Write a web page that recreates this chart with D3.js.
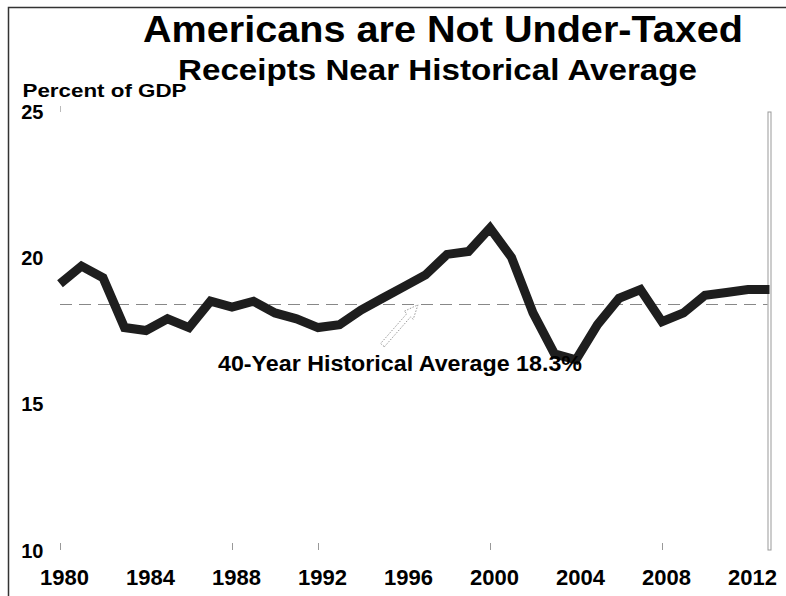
<!DOCTYPE html>
<html>
<head>
<meta charset="utf-8">
<script src="https://cdn.jsdelivr.net/npm/d3@7"></script>
<style>
  body { margin: 0; background: #fff; }
  text { font-family: "Liberation Sans", Arial, sans-serif; font-weight: bold; fill: #000; }
</style>
</head>
<body>
<div class="chart-container"></div>
<script>
var width = 786;
var height = 596;

var years = d3.range(1980, 2014);
var receipts = [19.1, 19.7, 19.3, 17.6, 17.5, 17.9, 17.6, 18.5, 18.3, 18.5,
  18.1, 17.9, 17.6, 17.7, 18.2, 18.6, 19.0, 19.4, 20.1, 20.2,
  21.0, 20.0, 18.1, 16.7, 16.5, 17.7, 18.6, 18.9, 17.8, 18.1,
  18.7, 18.8, 18.9, 18.9];
var average = 18.4;
var yTicks = [25, 20, 15, 10];
var xLabels = [1980, 1984, 1988, 1992, 1996, 2000, 2004, 2008, 2012];
var xTickMarks = [1980, 1988, 1992, 2000, 2008];
// annotation arrow, in data units: [year, percent]
var arrowFrom = [1995.0, 17.0];
var arrowTo = [1996.65, 18.38];

var x = d3.scaleLinear()
  .domain([1980, 2013])
  .range([60, 769.5]);

var y = d3.scaleLinear()
  .domain([10, 25])
  .range([550, 111]);

var svg = d3.select('.chart-container').append('svg')
  .attr('width', width)
  .attr('height', height);

// frame
svg.append('path')
  .attr('d', 'M8.5,' + height + 'V7.5H' + width)
  .attr('fill', 'none')
  .attr('stroke', '#333')
  .attr('stroke-width', 1.5);

svg.append('rect')
  .attr('x', x(2013) - 1.5)
  .attr('y', y(25) + 1)
  .attr('width', 3)
  .attr('height', y(10) - y(25) - 1)
  .attr('fill', '#fff')
  .attr('stroke', '#999')
  .attr('stroke-width', 1);

// titles
svg.append('text')
  .attr('x', 443)
  .attr('y', 42)
  .attr('text-anchor', 'middle')
  .attr('font-size', 36)
  .attr('textLength', 600)
  .attr('lengthAdjust', 'spacingAndGlyphs')
  .text('Americans are Not Under-Taxed');

svg.append('text')
  .attr('x', 437.5)
  .attr('y', 80)
  .attr('text-anchor', 'middle')
  .attr('font-size', 30)
  .attr('textLength', 519)
  .attr('lengthAdjust', 'spacingAndGlyphs')
  .text('Receipts Near Historical Average');

svg.append('text')
  .attr('x', 22.5)
  .attr('y', 96.5)
  .attr('font-size', 19)
  .attr('textLength', 164)
  .attr('lengthAdjust', 'spacingAndGlyphs')
  .text('Percent of GDP');

// axes
var yAxis = svg.append('g').attr('class', 'y-axis');
yAxis.selectAll('text')
  .data(yTicks)
  .enter().append('text')
    .attr('x', 43.5)
    .attr('y', d => y(d) + 7.5)
    .attr('text-anchor', 'end')
    .attr('font-size', 20)
    .text(d => d);

var xAxis = svg.append('g').attr('class', 'x-axis');
xAxis.selectAll('text')
  .data(xLabels)
  .enter().append('text')
    .attr('x', d => x(d) + 4.5)
    .attr('y', 585)
    .attr('text-anchor', 'middle')
    .attr('font-size', 22)
    .text(d => d);

xAxis.selectAll('line')
  .data(xTickMarks)
  .enter().append('line')
    .attr('x1', d => Math.round(x(d)) + 0.5)
    .attr('x2', d => Math.round(x(d)) + 0.5)
    .attr('y1', y(10) - 7)
    .attr('y2', y(10))
    .attr('stroke', '#999');

svg.append('line')
  .attr('x1', x(1980) + 0.5)
  .attr('x2', x(1980) + 0.5)
  .attr('y1', y(25) - 5)
  .attr('y2', y(25) + 1)
  .attr('stroke', '#bbb');

// historical average
svg.append('line')
  .attr('x1', x(1980))
  .attr('x2', x(2013) - 2)
  .attr('y1', Math.round(y(average)) + 0.5)
  .attr('y2', Math.round(y(average)) + 0.5)
  .attr('stroke', '#888')
  .attr('stroke-width', 1)
  .attr('stroke-dasharray', '12,7');

// receipts line
var line = d3.line()
  .x((d, i) => x(years[i]))
  .y(d => y(d));

svg.append('path')
  .datum(receipts)
  .attr('d', line)
  .attr('fill', 'none')
  .attr('stroke', '#1e1e1e')
  .attr('stroke-width', 9)
  .attr('stroke-linejoin', 'miter')
  .attr('stroke-miterlimit', 3);

// annotation
var x0 = x(arrowFrom[0]), y0 = y(arrowFrom[1]);
var x1 = x(arrowTo[0]), y1 = y(arrowTo[1]);
var len = Math.hypot(x1 - x0, y1 - y0);
var ux = (x1 - x0) / len, uy = (y1 - y0) / len;
var nx = -uy, ny = ux;
var headLen = 14, headW = 6, shaftW = 2.5;
var hx = x1 - ux * headLen, hy = y1 - uy * headLen;
var arrowPts = [
  [x0 + nx * shaftW, y0 + ny * shaftW],
  [hx + nx * shaftW, hy + ny * shaftW],
  [hx + nx * headW, hy + ny * headW],
  [x1, y1],
  [hx - nx * headW, hy - ny * headW],
  [hx - nx * shaftW, hy - ny * shaftW],
  [x0 - nx * shaftW, y0 - ny * shaftW]
];
svg.append('path')
  .attr('d', 'M' + arrowPts.join('L') + 'Z')
  .attr('fill', '#fff')
  .attr('stroke', '#999')
  .attr('stroke-width', 1)
  .attr('stroke-dasharray', '1.5,1.5');

svg.append('text')
  .attr('x', 400)
  .attr('y', 370.5)
  .attr('text-anchor', 'middle')
  .attr('font-size', 22)
  .attr('textLength', 364)
  .attr('lengthAdjust', 'spacingAndGlyphs')
  .text('40-Year Historical Average 18.3%');
</script>
</body>
</html>
